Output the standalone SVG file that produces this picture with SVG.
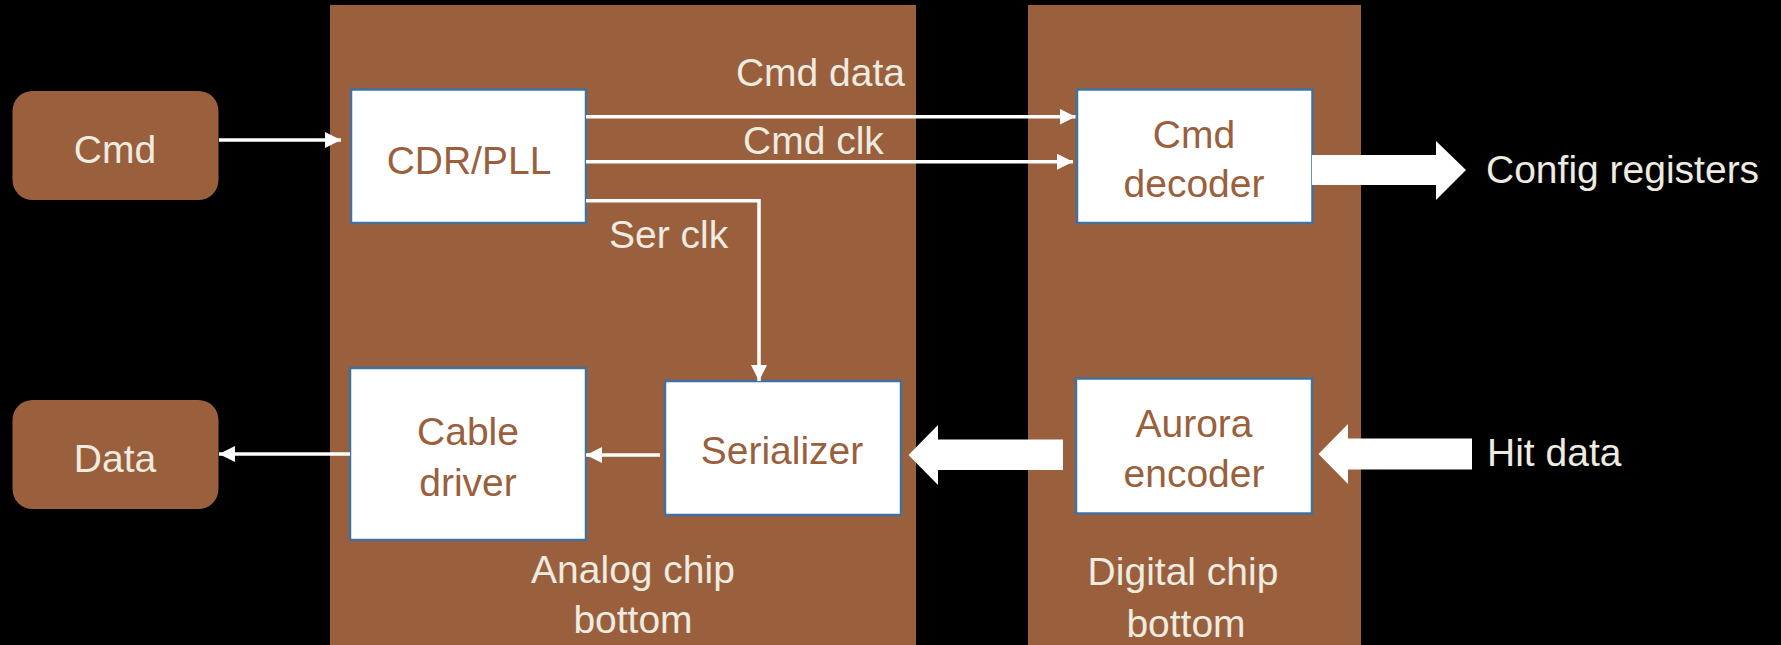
<svg xmlns="http://www.w3.org/2000/svg" width="1781" height="645" viewBox="0 0 1781 645">
<defs>
<style>
.panel{fill:#9A5F3C}
.term{fill:#9A5F3C}
.box{fill:#FFFFFF;stroke:#41719C;stroke-width:2.5}
.t{font-family:"Liberation Sans",Arial,sans-serif;font-size:39px}
.lt{fill:#EEEBE0}
.bt{fill:#9A5F3C}
.wire{fill:none;stroke:#FFFFFF;stroke-width:3.5}
.fat{fill:#FFFFFF}
</style>
<marker id="ah" markerUnits="userSpaceOnUse" markerWidth="18" markerHeight="16" refX="16" refY="8" orient="auto" viewBox="0 0 18 16">
<path d="M0,0 L16,8 L0,16 z" fill="#FFFFFF"/>
</marker>
</defs>
<rect x="0" y="0" width="1781" height="645" fill="#000000"/>
<g id="analog-chip">
<rect class="panel" x="330" y="5" width="586" height="645"/>
<text class="t lt" text-anchor="middle" x="633" y="583">Analog chip</text>
<text class="t lt" text-anchor="middle" x="633" y="633">bottom</text>
</g>
<g id="digital-chip">
<rect class="panel" x="1028" y="5" width="333" height="645"/>
<text class="t lt" text-anchor="middle" x="1183" y="585">Digital chip</text>
<text class="t lt" text-anchor="middle" x="1186" y="637">bottom</text>
</g>
<g id="cmd">
<rect class="term" x="12.5" y="91" width="206" height="109" rx="20" ry="20"/>
<text class="t lt" text-anchor="middle" x="115" y="163">Cmd</text>
</g>
<g id="data">
<rect class="term" x="12.5" y="400" width="206" height="109" rx="20" ry="20"/>
<text class="t lt" text-anchor="middle" x="115" y="472">Data</text>
</g>
<g id="cdr-pll">
<rect class="box" x="351" y="89.5" width="235" height="133.5"/>
<text class="t bt" text-anchor="middle" x="469" y="174">CDR/PLL</text>
</g>
<g id="cmd-decoder">
<rect class="box" x="1077" y="89.5" width="235.5" height="133.5"/>
<text class="t bt" text-anchor="middle" x="1194" y="148">Cmd</text>
<text class="t bt" text-anchor="middle" x="1194" y="197">decoder</text>
</g>
<g id="cable-driver">
<rect class="box" x="350" y="368" width="236" height="172"/>
<text class="t bt" text-anchor="middle" x="468" y="445">Cable</text>
<text class="t bt" text-anchor="middle" x="468" y="496">driver</text>
</g>
<g id="serializer">
<rect class="box" x="665" y="381" width="236" height="134"/>
<text class="t bt" text-anchor="middle" x="782" y="464">Serializer</text>
</g>
<g id="aurora-encoder">
<rect class="box" x="1076" y="378.5" width="236" height="135"/>
<text class="t bt" text-anchor="middle" x="1194" y="437">Aurora</text>
<text class="t bt" text-anchor="middle" x="1194" y="487">encoder</text>
</g>
<g id="config-registers">
<text class="t lt" x="1486" y="183">Config registers</text>
</g>
<g id="hit-data">
<text class="t lt" x="1487" y="466">Hit data</text>
</g>
<g id="connectors">
<line class="wire" x1="219" y1="140" x2="341" y2="140" marker-end="url(#ah)"/>
<line class="wire" x1="586" y1="116.7" x2="1075.5" y2="116.7" marker-end="url(#ah)"/>
<line class="wire" x1="586" y1="161.7" x2="1073" y2="161.7" marker-end="url(#ah)"/>
<polyline class="wire" points="586,200.7 759,200.7 759,381" marker-end="url(#ah)"/>
<line class="wire" x1="660" y1="455" x2="586" y2="455" marker-end="url(#ah)"/>
<line class="wire" x1="350" y1="454" x2="219" y2="454" marker-end="url(#ah)"/>
<polygon class="fat" points="1312,155 1436,155 1436,141 1466,170 1436,200 1436,185 1312,185"/>
<polygon class="fat" points="1063,439.5 938,439.5 938,425 908.5,455 938,485 938,470 1063,470"/>
<polygon class="fat" points="1472,438.5 1348,438.5 1348,424 1318.5,454 1348,484 1348,469.5 1472,469.5"/>
<text class="t lt" text-anchor="end" x="905" y="86">Cmd data</text>
<text class="t lt" x="743" y="154">Cmd clk</text>
<text class="t lt" x="609" y="248">Ser clk</text>
</g>
</svg>
